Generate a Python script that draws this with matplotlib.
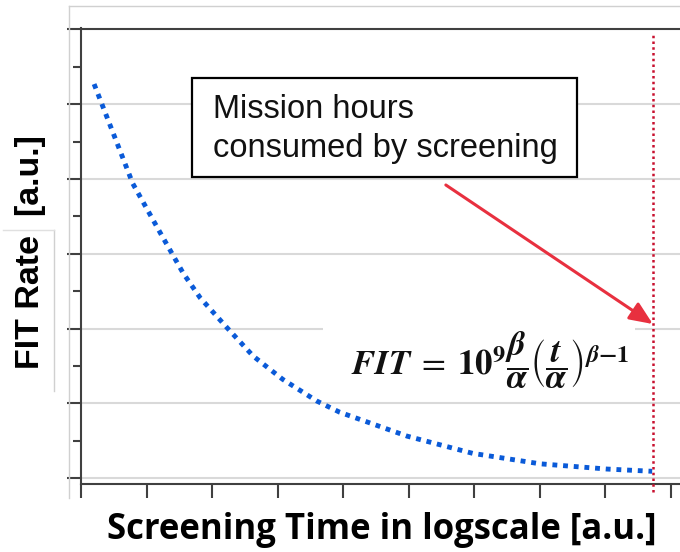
import numpy as np
import matplotlib
matplotlib.use('Agg')
import matplotlib.pyplot as plt
from matplotlib.lines import Line2D
from matplotlib.patches import Rectangle

plt.rcParams['font.family'] = ['Liberation Sans', 'DejaVu Sans']
plt.rcParams['mathtext.fontset'] = 'stix'

# curve (x in tick units, y in gridline units)
t_screen = [0.20, 0.79, 1.21, 1.56, 1.82, 2.23, 2.63, 3.08, 3.60, 3.95,
            4.98, 5.98, 7.01, 8.03, 8.72]
fit_rate = [5.27, 3.94, 3.28, 2.74, 2.41, 2.01, 1.63, 1.32, 1.03, 0.88,
            0.56, 0.33, 0.19, 0.12, 0.09]
mission_x = 8.73
arrow_from = (5.57, 3.92)
arrow_to = (8.73, 2.06)
box_lines = ['Mission hours', 'consumed by screening']

W, H = 680, 552
fig = plt.figure(figsize=(6.8, 5.52), dpi=100)
ax = fig.add_axes([81 / W, 1 - 484 / H, (W - 81) / W, (484 - 28) / H])

ax.set_xlim(0, 9.145)
ax.set_ylim(-0.08, 6.02)

ax.set_xticks(np.arange(0, 10))
ax.set_yticks(np.arange(0, 7))
ax.set_yticks(np.arange(0.5, 6, 1), minor=True)
ax.set_xticklabels([])
ax.set_yticklabels([])
ax.tick_params(axis='both', which='major', length=10, width=1.5, color='#404040')
ax.tick_params(axis='y', which='minor', length=6, width=1.5, color='#404040')

for s in ['top', 'right']:
    ax.spines[s].set_visible(False)
for s in ['left', 'bottom']:
    ax.spines[s].set_color('#404040')
    ax.spines[s].set_linewidth(1.5)

# top line
ax.plot([0, 9.145], [6.0, 6.0], color='#404040', lw=1.5, clip_on=False)

for g in range(0, 6):
    ax.axhline(g, color='#d9d9d9', lw=1.5, zorder=0)

ax.plot(t_screen, fit_rate, color='#0a5ad8', lw=3.5, linestyle=(0, (1, 1.2)), zorder=3)

ax.plot([mission_x, mission_x], [-0.19, 5.95], color='#c8102e', lw=1.8,
        linestyle=(0, (1, 1.3)), clip_on=False, zorder=4)

ax.annotate('', xy=arrow_to, xytext=arrow_from,
            arrowprops=dict(arrowstyle='-|>,head_length=1.4,head_width=0.6',
                            color='#e8303f', lw=2.2, shrinkA=0, shrinkB=0), zorder=5)

# text box
ax.add_patch(Rectangle((1.695, 4.024), 5.875, 1.324, fc='white', ec='black', lw=1.6, zorder=6))
ax.text(2.015, 4.813, box_lines[0], fontsize=23.5, color='#111111', ha='left',
        va='baseline', zorder=7)
ax.text(2.015, 4.291, box_lines[1], fontsize=23.5, color='#111111', ha='left',
        va='baseline', zorder=7)

# formula with white backing
ax.add_patch(Rectangle((3.69, 1.07), 4.77, 1.11, fc='white', ec='none', zorder=1))
formula = (r'$\boldsymbol{FIT}\;=\;\mathbf{10}^{\mathbf{9}}'
           r'\dfrac{\boldsymbol{\beta}}{\boldsymbol{\alpha}}'
           r'\left(\dfrac{\boldsymbol{t}}{\boldsymbol{\alpha}}\right)^{\boldsymbol{\beta}\mathbf{-1}}$')
ax.text(6.24, 1.58, formula, fontsize=25, ha='center', va='center', color='#111111', zorder=2)

fig.text(30 / W, 1 - 252 / H, 'FIT Rate  [a.u.]', rotation=90, fontsize=24.5,
         fontweight='bold', ha='center', va='center')
fig.text(382 / W, 1 - 530 / H, 'Screening Time in logscale [a.u.]', fontsize=25,
         fontweight='bold', ha='center', va='center', family='Open Sans')

# faint picture frame
fig.add_artist(Line2D([69 / W, 69 / W], [1 - 6 / H, 1 - 498 / H], color='#d0d0d0', lw=1))
fig.add_artist(Line2D([69 / W, 1], [1 - 6 / H, 1 - 6 / H], color='#d0d0d0', lw=1))
fig.add_artist(Line2D([54 / W, 54 / W], [1 - 230 / H, 1 - 391 / H], color='#d0d0d0', lw=1))
fig.add_artist(Line2D([3 / W, 54 / W], [1 - 230 / H, 1 - 230 / H], color='#e0e0e0', lw=1))

fig.savefig('out.png', dpi=100)
